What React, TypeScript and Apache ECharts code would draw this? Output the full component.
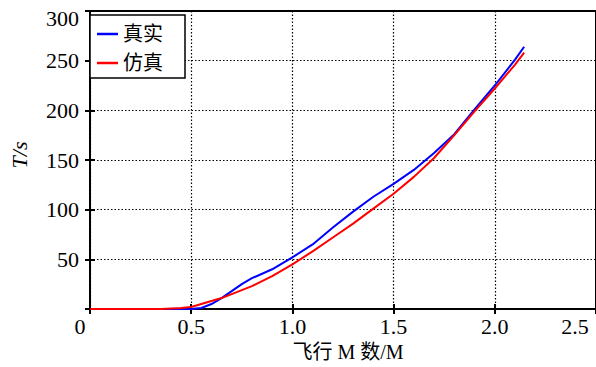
import React, { useEffect, useRef } from "react";
import * as echarts from "echarts";

const xTicks = [0, 0.5, 1.0, 1.5, 2.0, 2.5];
const yTicks = [0, 50, 100, 150, 200, 250, 300];

const realX = [0, 0.1, 0.2, 0.3, 0.4, 0.45, 0.5, 0.55, 0.6, 0.65, 0.7, 0.75, 0.8, 0.9, 1.0, 1.1, 1.2, 1.3, 1.4, 1.5, 1.6, 1.7, 1.8, 1.9, 2.0, 2.1, 2.145];
const realY = [0, 0, 0, 0, 0, 0, 0, 1, 5, 11, 18, 25, 31, 40, 52, 65, 82, 98, 113, 126, 140, 157, 176, 201, 225, 251, 264];

const simX = [0, 0.1, 0.2, 0.3, 0.35, 0.4, 0.45, 0.5, 0.55, 0.6, 0.65, 0.7, 0.75, 0.8, 0.9, 1.0, 1.1, 1.2, 1.3, 1.4, 1.5, 1.6, 1.7, 1.8, 1.9, 2.0, 2.1, 2.145];
const simY = [0, 0, 0, 0, 0, 0.5, 1, 2, 5, 8, 11, 15, 19, 23, 33, 45, 58, 72, 86, 101, 116, 133, 152, 175, 199, 222, 246, 258];

const seriesNames = ["真实", "仿真"];
const xName = "飞行 M 数/M";
const yName = "T/s";

const SERIF = "Liberation Serif";
const CJK = "Liberation Serif, Noto Sans CJK SC";

export default function App() {
  const ref = useRef<HTMLDivElement>(null);
  useEffect(() => {
    if (!ref.current) return;
    const chart = echarts.init(ref.current, null, { renderer: "svg" });
    const pairs = (xs: number[], ys: number[]) => xs.map((x, i) => [x, ys[i]]);
    const gridLine = { show: true, lineStyle: { color: "#000", width: 1.2, type: [1.5, 2] as any } };
    const tick = { show: true, inside: true, length: 5, lineStyle: { color: "#000", width: 2 } };
    const labelFont = { fontFamily: SERIF, fontSize: 22, color: "#000", fontWeight: "normal" as const };
    chart.setOption({
      animation: false,
      backgroundColor: "#fff",
      textStyle: { fontFamily: SERIF },
      grid: { left: 88, top: 11, right: -2, bottom: 56, show: true, borderColor: "#000", borderWidth: 2 },
      legend: {
        left: 90,
        top: 15,
        orient: "vertical",
        data: seriesNames,
        icon: "rect",
        itemWidth: 21,
        itemHeight: 2.5,
        itemGap: 9,
        padding: [9, 22, 5, 7],
        borderColor: "#000",
        borderWidth: 1.5,
        backgroundColor: "#fff",
        textStyle: { fontFamily: CJK, fontSize: 20, color: "#000", lineHeight: 20 },
      },
      xAxis: [
        {
          type: "value",
          min: xTicks[0],
          max: xTicks[xTicks.length - 1],
          interval: 0.5,
          name: xName,
          nameLocation: "middle",
          nameGap: 33,
          nameTextStyle: { fontFamily: CJK, fontSize: 20, color: "#000", padding: [0, 0, 0, 10] },
          axisLine: { show: true, lineStyle: { color: "#000", width: 2 } },
          axisTick: tick,
          splitLine: gridLine,
          axisLabel: {
            margin: 6,
            ...labelFont,
            formatter: (v: number) => {
              if (v === xTicks[0]) return "{z|0}";
              if (v === xTicks[xTicks.length - 1]) return "{m|" + v.toFixed(1) + "}";
              return "{n|" + v.toFixed(1) + "}";
            },
            rich: {
              n: { ...labelFont },
              z: { ...labelFont, padding: [0, 20, 0, 0] },
              m: { ...labelFont, padding: [0, 42, 0, 0] },
            },
          },
        },
        {
          type: "value",
          position: "top",
          min: xTicks[0],
          max: xTicks[xTicks.length - 1],
          interval: 0.5,
          axisLine: { show: false },
          axisTick: tick,
          axisLabel: { show: false },
          splitLine: { show: false },
        },
      ],
      yAxis: [
        {
          type: "value",
          min: yTicks[0],
          max: yTicks[yTicks.length - 1],
          interval: 50,
          name: yName,
          nameLocation: "middle",
          nameGap: 60,
          nameTextStyle: { fontFamily: SERIF, fontStyle: "italic", fontSize: 22, color: "#000", padding: [0, 0, 0, 10] },
          axisLine: { show: true, lineStyle: { color: "#000", width: 2 } },
          axisTick: tick,
          splitLine: gridLine,
          axisLabel: {
            showMinLabel: false,
            margin: 11,
            ...labelFont,
            formatter: (v: number) => (v === yTicks[yTicks.length - 1] ? "{t|" + v + "}" : "{n|" + v + "}"),
            rich: {
              n: { ...labelFont },
              t: { ...labelFont, padding: [14, 0, 0, 0] },
            },
          },
        },
        {
          type: "value",
          position: "right",
          min: yTicks[0],
          max: yTicks[yTicks.length - 1],
          interval: 50,
          axisLine: { show: false },
          axisTick: tick,
          axisLabel: { show: false },
          splitLine: { show: false },
        },
      ],
      series: [
        {
          name: seriesNames[0],
          type: "line",
          data: pairs(realX, realY),
          showSymbol: false,
          symbol: "none",
          color: "#0000ff",
          lineStyle: { color: "#0000ff", width: 2 },
          z: 3,
        },
        {
          name: seriesNames[1],
          type: "line",
          data: pairs(simX, simY),
          showSymbol: false,
          symbol: "none",
          color: "#ff0000",
          lineStyle: { color: "#ff0000", width: 2 },
          z: 4,
        },
      ],
    });
    return () => chart.dispose();
  }, []);
  return (
    <div
      ref={ref}
      style={{ position: "fixed", left: 0, top: 0, width: 596, height: 367, background: "#fff" }}
    />
  );
}
